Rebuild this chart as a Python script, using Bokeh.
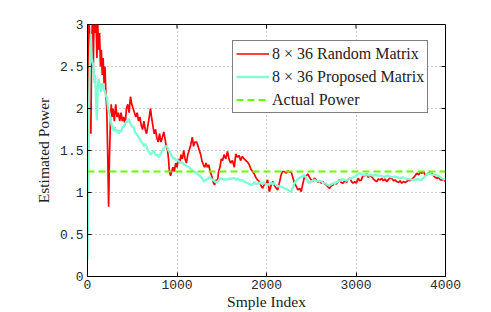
from bokeh.plotting import figure
from bokeh.models import Range1d, FixedTicker, Legend, LegendItem, CustomJSTickFormatter
from bokeh.embed import file_html
from bokeh.resources import INLINE
import math

# ---- data ----
red_x = [0, 8, 15, 25, 38, 45, 55, 65, 75, 85, 95, 105, 115, 125, 135, 145, 155, 165, 175, 185, 195, 205, 215, 225, 236, 245, 255, 265, 275, 285,
         300, 315, 330, 345, 360, 375, 390, 405, 420, 435, 450, 465, 480, 495, 510, 525, 540, 555, 570, 585, 600, 615, 630, 645, 660, 675, 690, 704, 715, 730,
         745, 760, 775, 790, 805, 820, 835, 852, 865, 880, 895, 905, 915, 928, 940, 955, 970, 985, 1000, 1015, 1030, 1045, 1060, 1075, 1090, 1105, 1120, 1135, 1150, 1171,
         1185, 1200, 1220, 1235, 1250, 1265, 1280, 1295, 1310, 1325, 1340, 1355, 1370, 1390, 1405, 1420, 1435, 1452, 1465, 1480, 1495, 1510, 1525, 1545, 1564, 1580, 1600, 1620, 1640, 1657,
         1675, 1695, 1710, 1730, 1750, 1770, 1790, 1808, 1825, 1845, 1864, 1880, 1900, 1920, 1940, 1957, 1975, 1994, 2013, 2032, 2050, 2069, 2090, 2110, 2125, 2145, 2163, 2180, 2200, 2220,
         2240, 2260, 2275, 2294, 2310, 2330, 2350, 2370, 2387, 2405, 2425, 2445, 2462, 2480, 2500, 2518, 2536, 2556, 2575, 2595, 2612, 2630, 2650, 2668, 2685, 2705, 2725, 2743, 2760, 2780,
         2799, 2815, 2835, 2855, 2875, 2895, 2911, 2930, 2950, 2967, 2985, 3004, 3024, 3042, 3060, 3080, 3100, 3118, 3135, 3155, 3174, 3195, 3215, 3231, 3250, 3270, 3287, 3305, 3325, 3343,
         3360, 3380, 3399, 3420, 3437, 3455, 3475, 3493, 3511, 3530, 3550, 3567, 3585, 3605, 3624, 3645, 3660, 3680, 3700, 3720, 3736, 3755, 3775, 3792, 3810, 3830, 3848, 3865, 3885, 3904,
         3925, 3942, 3960, 3980, 4000]
red_y = [1.0, 2.2, 3.2, 2.8, 1.7, 2.6, 3.1, 2.5, 3.2, 2.9, 3.1, 2.6, 3.0, 2.7, 2.9, 2.5, 2.7, 2.4, 2.6, 2.3, 2.5, 2.2, 2.0, 1.5, 0.83, 1.4, 1.8, 2.05, 1.9, 2.0,
         1.85, 2.05, 1.9, 1.95, 1.85, 1.95, 1.85, 1.9, 1.8, 2.0, 2.05, 1.95, 2.14, 2.05, 2.0, 1.95, 1.9, 1.95, 1.85, 1.9, 1.8, 1.75, 1.85, 1.75, 1.7, 1.8, 1.9, 2.0, 1.9, 1.8,
         1.7, 1.75, 1.65, 1.6, 1.7, 1.6, 1.65, 1.72, 1.65, 1.55, 1.5, 1.4, 1.25, 1.2, 1.25, 1.3, 1.25, 1.35, 1.3, 1.4, 1.35, 1.45, 1.4, 1.5, 1.4, 1.35, 1.45, 1.5, 1.55, 1.66,
         1.55, 1.6, 1.6, 1.55, 1.5, 1.45, 1.37, 1.33, 1.3, 1.35, 1.3, 1.33, 1.25, 1.19, 1.12, 1.09, 1.15, 1.13, 1.25, 1.3, 1.4, 1.38, 1.45, 1.4, 1.49, 1.4, 1.35, 1.38, 1.3, 1.46,
         1.42, 1.44, 1.38, 1.43, 1.4, 1.38, 1.36, 1.33, 1.28, 1.25, 1.22, 1.18, 1.15, 1.13, 1.08, 1.05, 1.1, 1.11, 1.15, 1.01, 1.08, 1.13, 1.08, 1.05, 1.03, 1.12, 1.21, 1.25, 1.25, 1.23,
         1.26, 1.24, 1.25, 1.18, 1.12, 1.08, 1.03, 1.05, 1.01, 1.1, 1.19, 1.2, 1.22, 1.18, 1.15, 1.13, 1.17, 1.15, 1.12, 1.14, 1.11, 1.13, 1.1, 1.09, 1.07, 1.05, 1.08, 1.09, 1.12, 1.1,
         1.13, 1.15, 1.12, 1.11, 1.14, 1.12, 1.15, 1.17, 1.13, 1.11, 1.13, 1.11, 1.17, 1.14, 1.15, 1.21, 1.2, 1.23, 1.18, 1.2, 1.19, 1.16, 1.14, 1.13, 1.16, 1.15, 1.17, 1.14, 1.16, 1.13,
         1.15, 1.18, 1.17, 1.14, 1.15, 1.13, 1.12, 1.14, 1.11, 1.13, 1.12, 1.13, 1.15, 1.14, 1.16, 1.18, 1.2, 1.23, 1.21, 1.24, 1.23, 1.25, 1.2, 1.21, 1.24, 1.22, 1.23, 1.2, 1.18, 1.17,
         1.18, 1.15, 1.15, 1.16, 1.13]

cyan_x = [0, 8, 15, 22, 30, 38, 46, 55, 68, 78, 86, 95, 105, 115, 123, 135, 150, 165, 180, 195, 205, 217, 230, 245, 255, 270, 280, 292, 305, 320,
          335, 348, 360, 375, 390, 404, 420, 435, 450, 460, 475, 490, 505, 516, 530, 545, 560, 575, 591, 605, 618, 629, 645, 660, 675, 690, 704, 720, 741, 755,
          770, 785, 797, 812, 825, 840, 853, 870, 890, 905, 920, 935, 947, 960, 975, 990, 1003, 1020, 1040, 1060, 1080, 1100, 1116, 1135, 1150, 1170, 1190, 1210, 1230, 1250,
          1265, 1285, 1303, 1320, 1340, 1360, 1377, 1395, 1415, 1435, 1452, 1470, 1490, 1510, 1530, 1550, 1564, 1585, 1605, 1625, 1639, 1660, 1676, 1695, 1715, 1730, 1750, 1770, 1790, 1808,
          1826, 1845, 1865, 1885, 1905, 1920, 1938, 1955, 1975, 1995, 2013, 2030, 2050, 2068, 2088, 2105, 2125, 2145, 2163, 2180, 2200, 2220, 2238, 2255, 2275, 2290, 2312, 2330, 2350, 2368,
          2390, 2410, 2424, 2440, 2460, 2480, 2500, 2518, 2536, 2555, 2575, 2595, 2612, 2630, 2650, 2668, 2687, 2705, 2725, 2745, 2761, 2780, 2800, 2818, 2836, 2855, 2875, 2895, 2911, 2930,
          2950, 2968, 2986, 3005, 3024, 3042, 3060, 3080, 3098, 3120, 3140, 3160, 3190, 3210, 3240, 3270, 3300, 3322, 3350, 3380, 3410, 3434, 3460, 3490, 3520, 3547, 3575, 3600, 3630, 3659,
          3690, 3712, 3734, 3760, 3785, 3809, 3830, 3860, 3884, 3910, 3935, 3958, 3980, 4000]
cyan_y = [0.2, 1.0, 1.8, 2.3, 2.7, 2.89, 2.6, 2.55, 2.5, 2.3, 2.4, 2.1, 1.86, 2.25, 2.35, 2.3, 2.2, 2.3, 2.24, 2.2, 2.15, 2.14, 2.0, 1.95, 1.9, 1.8, 1.78, 1.73, 1.78, 1.72,
          1.75, 1.7, 1.74, 1.72, 1.78, 1.78, 1.82, 1.85, 1.84, 1.88, 1.83, 1.8, 1.78, 1.78, 1.72, 1.7, 1.68, 1.65, 1.62, 1.6, 1.58, 1.55, 1.58, 1.55, 1.5, 1.48, 1.45, 1.47, 1.5, 1.46,
          1.44, 1.45, 1.42, 1.45, 1.48, 1.5, 1.53, 1.55, 1.55, 1.5, 1.48, 1.45, 1.42, 1.4, 1.41, 1.38, 1.39, 1.37, 1.35, 1.36, 1.33, 1.32, 1.31, 1.3, 1.28, 1.27, 1.25, 1.24, 1.22, 1.2,
          1.19, 1.16, 1.13, 1.15, 1.16, 1.18, 1.17, 1.15, 1.14, 1.12, 1.13, 1.15, 1.17, 1.16, 1.15, 1.16, 1.15, 1.17, 1.16, 1.17, 1.17, 1.15, 1.17, 1.15, 1.14, 1.15, 1.13, 1.12, 1.11, 1.1,
          1.09, 1.1, 1.12, 1.1, 1.11, 1.12, 1.11, 1.1, 1.12, 1.1, 1.09, 1.1, 1.12, 1.1, 1.11, 1.09, 1.08, 1.07, 1.07, 1.06, 1.05, 1.04, 1.03, 1.02, 1.01, 1.05, 1.11, 1.14, 1.16, 1.17,
          1.19, 1.2, 1.21, 1.18, 1.14, 1.11, 1.13, 1.14, 1.15, 1.14, 1.13, 1.14, 1.13, 1.12, 1.11, 1.1, 1.09, 1.08, 1.1, 1.11, 1.11, 1.12, 1.13, 1.14, 1.15, 1.16, 1.15, 1.14, 1.15, 1.16,
          1.17, 1.18, 1.19, 1.2, 1.22, 1.23, 1.22, 1.21, 1.21, 1.22, 1.2, 1.21, 1.2, 1.21, 1.2, 1.2, 1.19, 1.19, 1.2, 1.19, 1.18, 1.19, 1.18, 1.17, 1.18, 1.17, 1.16, 1.16, 1.15, 1.15,
          1.16, 1.15, 1.15, 1.18, 1.21, 1.23, 1.22, 1.21, 1.21, 1.2, 1.19, 1.17, 1.16, 1.16]

actual_x = [0, 4000]
actual_y = [1.25, 1.25]

series_labels = ["8 \u00d7 36 Random Matrix", "8 \u00d7 36 Proposed Matrix", "Actual Power"]
x_ticks = [0, 1000, 2000, 3000, 4000]
y_ticks = [0, 0.5, 1, 1.5, 2, 2.5, 3]
x_label = "Smple Index"
y_label = "Estimated Power"
x_lim = (0, 4000)
y_lim = (0, 3)

# ---- figure ----
p = figure(width=483, height=312, output_backend="svg", toolbar_location=None,
           x_range=Range1d(*x_lim), y_range=Range1d(*y_lim),
           min_border_left=87, min_border_right=38, min_border_top=24, min_border_bottom=35)
p.background_fill_color = "white"
p.border_fill_color = "white"
p.outline_line_color = "black"
p.outline_line_width = 1

mono = "Liberation Mono"
serif = "Liberation Serif"

for ax, ticks in ((p.xaxis[0], x_ticks), (p.yaxis[0], y_ticks)):
    ax.ticker = FixedTicker(ticks=ticks)
    ax.major_tick_in = 4
    ax.major_tick_out = 0
    ax.minor_tick_line_color = None
    ax.axis_line_color = "black"
    ax.major_tick_line_color = "black"
    ax.major_label_text_font = mono
    ax.major_label_text_font_size = "13px"
    ax.major_label_text_color = "#2a2a2a"
    ax.axis_label_text_font = serif
    ax.axis_label_text_font_size = "15.5px"
    ax.axis_label_text_font_style = "normal"
    ax.axis_label_text_color = "#222222"

p.xaxis[0].axis_label = x_label
p.yaxis[0].axis_label = y_label
p.xaxis[0].major_label_standoff = 3
p.xaxis[0].axis_label_standoff = 1
p.yaxis[0].major_label_standoff = 4
p.yaxis[0].axis_label_standoff = 5
p.yaxis[0].formatter = CustomJSTickFormatter(code="return tick.toString();")

for g in (p.xgrid[0], p.ygrid[0]):
    g.grid_line_color = "#999999"
    g.grid_line_dash = "1 3"
    g.grid_line_width = 1
p.xgrid[0].ticker = FixedTicker(ticks=x_ticks)
p.ygrid[0].ticker = FixedTicker(ticks=y_ticks)

# inward tick marks on the top and right edges of the box (clipped to the frame)
p.scatter(x=x_ticks, y=[y_lim[1]] * len(x_ticks), marker="dash", angle=math.pi / 2,
          size=8, line_color="black", line_width=1)
p.scatter(x=[x_lim[1]] * len(y_ticks), y=y_ticks, marker="dash",
          size=8, line_color="black", line_width=1)

r_red = p.line(red_x, red_y, line_color="#FF0000", line_width=1.7)
r_cyan = p.line(cyan_x, cyan_y, line_color="#7FFFD4", line_width=2.3)
r_act = p.line(actual_x, actual_y, line_color="#66FF00", line_width=2, line_dash="7 4")

legend = Legend(items=[LegendItem(label=series_labels[0], renderers=[r_red]),
                       LegendItem(label=series_labels[1], renderers=[r_cyan]),
                       LegendItem(label=series_labels[2], renderers=[r_act])],
                location=(145, 163), margin=0, padding=3, spacing=4,
                glyph_width=33, glyph_height=19, label_height=19, label_standoff=3,
                label_text_font=serif, label_text_font_size="16px", label_text_color="#222222",
                border_line_color="black", border_line_width=1, background_fill_color="white",
                background_fill_alpha=1)
p.add_layout(legend)

open("out.html", "w").write(file_html(p, INLINE))
